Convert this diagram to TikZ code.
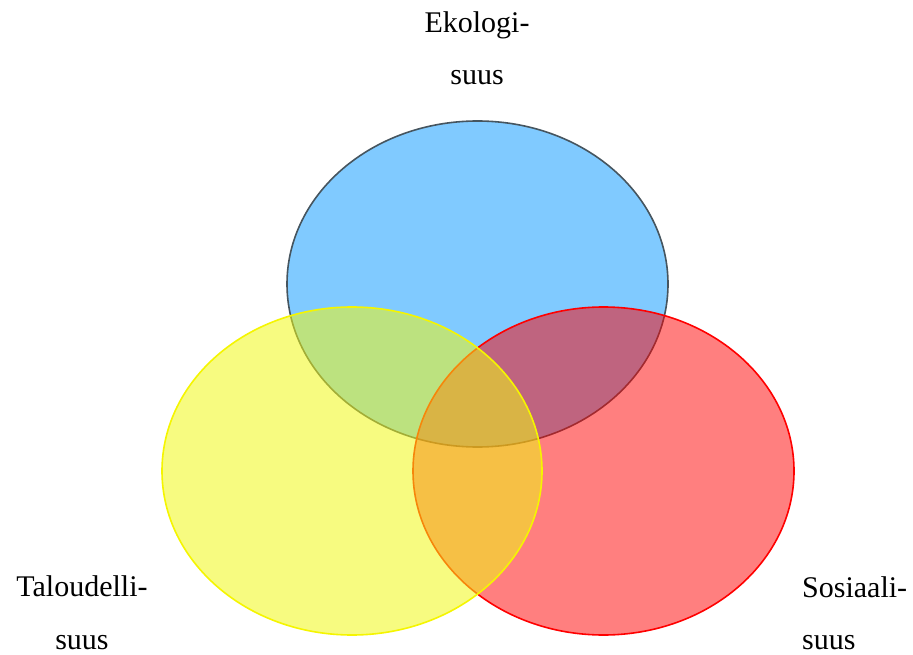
\documentclass[tikz,border=0pt]{standalone}
\usepackage{fontspec}
\setmainfont{Liberation Serif}
\begin{document}
\begin{tikzpicture}[x=1pt,y=-1pt,
  lbl/.style={inner sep=0pt,anchor=base,font=\fontsize{30}{32}\selectfont},
  eco/.style={fill={rgb,255:red,128;green,202;blue,255},draw={rgb,255:red,70;green,85;blue,95},line width=1.6pt},
  soc/.style={fill=red,fill opacity=0.5,draw=red,draw opacity=1,line width=1.6pt},
  tal/.style={fill={rgb,255:red,240;green,248;blue,20},fill opacity=0.54,draw={rgb,255:red,245;green,245;blue,0},draw opacity=1,line width=1.6pt}]
\useasboundingbox (0,0) rectangle (913,655);
\draw[eco] (477.5,284) ellipse [x radius=190.5, y radius=163];
\draw[soc] (603.5,471) ellipse [x radius=190.5, y radius=164];
\draw[tal] (352,471) ellipse [x radius=190, y radius=164];
\node[lbl] (e1) at (477,33) {Ekologi-};
\node[lbl] (e2) at (477,85) {suus};
\node[lbl] (t1) at (82,596) {Taloudelli-};
\node[lbl] (t2) at (82,649) {suus};
\node[lbl,anchor=base west] (s1) at (802,597) {Sosiaali-};
\node[lbl,anchor=base west] (s2) at (802,649) {suus};
\end{tikzpicture}
\end{document}
